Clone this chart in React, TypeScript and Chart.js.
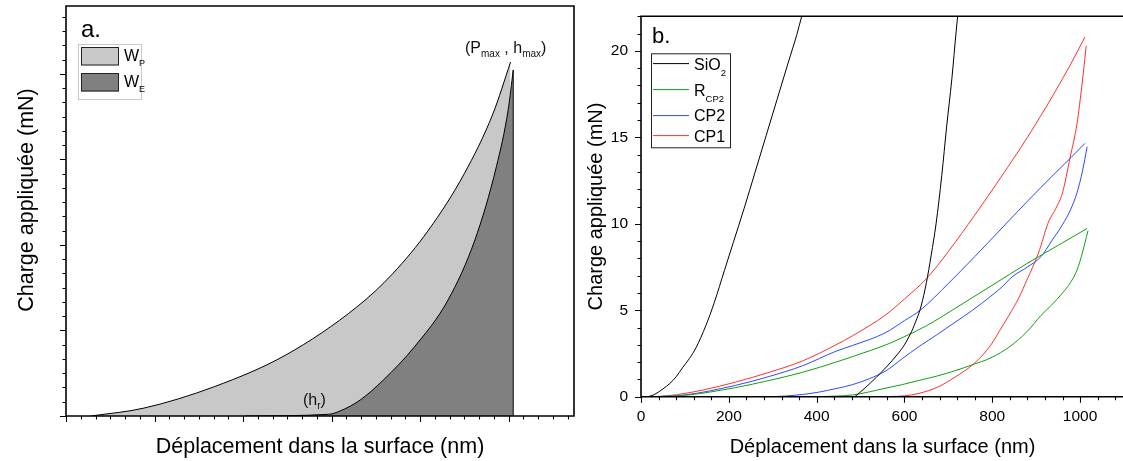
import React, { useEffect, useRef } from 'react';
import { Chart, registerables } from 'chart.js';

Chart.register(...registerables);

const FONT = "'Liberation Sans', Arial, Helvetica, sans-serif";

// ---------- Panel a (schematic, no tick labels) ----------
const aLoadX = [85, 261, 503, 745, 987, 1108, 1229, 1350, 1447, 1507];
const aLoadY = [0, 0.54, 2.06, 4.28, 7.67, 10.0, 13.05, 17.0, 21.2, 24.84];
const aUnloadX = [610, 890, 929, 997, 1076, 1183, 1295, 1386, 1459, 1499, 1516];
const aUnloadY = [0, 0.12, 0.35, 1.12, 2.53, 4.9, 8.14, 12.35, 17.5, 21.5, 24.28];
const aEdgeX = [1516, 1516];
const aEdgeY = [0, 24.28];
const aLegendMain = ['W', 'W'];
const aLegendSub = ['P', 'E'];

// ---------- Panel b ----------
const sio2LoadX = [16, 30, 50, 65, 80, 95, 110, 125, 148, 167, 190, 210, 235, 260, 285, 310, 335, 355, 366, 380];
const sio2LoadY = [0, 0.12, 0.45, 0.75, 1.15, 1.69, 2.2, 2.82, 4.13, 5.45, 7.3, 8.9, 10.9, 13.0, 15.1, 17.2, 19.3, 20.95, 22.0, 23.2];
const sio2UnloadX = [487, 510, 535, 560, 584, 600, 613, 625, 638, 650, 661, 672, 685, 696, 708, 718, 726];
const sio2UnloadY = [0, 0.5, 1.1, 1.75, 2.45, 3.0, 3.6, 4.3, 5.25, 6.6, 8.2, 10.0, 12.8, 15.6, 18.4, 21.2, 23.2];

const rcp2LoadX = [30, 100, 216, 292, 368, 444, 520, 558, 598, 650, 715, 797, 879, 960, 1016];
const rcp2LoadY = [0, 0.08, 0.53, 0.94, 1.41, 2.0, 2.65, 3.0, 3.45, 4.1, 5.1, 6.4, 7.7, 8.9, 9.73];
const rcp2UnloadX = [1018, 1005, 993, 978, 960, 935, 911, 879, 840, 797, 755, 715, 675, 633, 595, 558, 520, 482, 440, 400];
const rcp2UnloadY = [9.6, 8.3, 7.32, 6.6, 6.0, 5.3, 4.7, 3.76, 2.9, 2.25, 1.85, 1.5, 1.2, 0.94, 0.7, 0.5, 0.28, 0.1, 0.03, 0];

const cp2LoadX = [30, 100, 216, 292, 368, 444, 520, 558, 600, 636, 700, 760, 820, 880, 940, 980, 1011];
const cp2LoadY = [0, 0.1, 0.66, 1.17, 1.79, 2.63, 3.3, 3.72, 4.4, 5.0, 6.55, 8.1, 9.7, 11.3, 12.85, 13.85, 14.65];
const cp2UnloadX = [1016, 1005, 993, 978, 960, 935, 911, 880, 846, 820, 797, 755, 715, 675, 633, 595, 558, 520, 482, 444, 406, 368, 330, 300];
const cp2UnloadY = [14.46, 13.0, 11.8, 10.8, 9.95, 9.0, 8.1, 7.5, 6.95, 6.3, 5.82, 5.0, 4.3, 3.6, 2.9, 2.2, 1.5, 1.04, 0.7, 0.47, 0.27, 0.13, 0.04, 0];

const cp1LoadX = [30, 64, 140, 216, 292, 368, 444, 520, 558, 600, 651, 700, 760, 820, 880, 940, 980, 1011];
const cp1LoadY = [0, 0.06, 0.38, 0.85, 1.41, 2.07, 3.0, 4.1, 4.75, 5.65, 6.85, 8.4, 10.5, 12.7, 15.0, 17.5, 19.3, 20.8];
const cp1UnloadX = [1014, 1005, 993, 977, 960, 945, 928, 905, 879, 860, 838, 815, 797, 760, 715, 675, 633, 600, 545];
const cp1UnloadY = [20.3, 18.2, 15.8, 13.8, 11.8, 10.9, 10.1, 8.3, 6.76, 5.7, 4.7, 3.75, 3.0, 1.95, 1.13, 0.55, 0.19, 0.05, 0];

const bXTicks = [0, 200, 400, 600, 800, 1000];
const bYTicks = [0, 5, 10, 15, 20];
const bLegendMain = ['SiO', 'R', 'CP2', 'CP1'];
const bLegendSub = ['2', 'CP2', '', ''];
const bColors = ['#000000', '#10a010', '#2a4bff', '#ff3030'];

const X_TITLE = 'Déplacement dans la surface (nm)';
const Y_TITLE = 'Charge appliquée (mN)';

const pts = (xs: number[], ys: number[]) => xs.map((x, i) => ({ x, y: ys[i] }));

function drawRich(ctx: CanvasRenderingContext2D, x: number, y: number, parts: [string, boolean][], size: number, subSize: number, drop: number) {
  let cx = x;
  for (const [t, sub] of parts) {
    ctx.font = `${sub ? subSize : size}px ${FONT}`;
    ctx.fillText(t, cx, sub ? y + drop : y);
    cx += ctx.measureText(t).width;
  }
}

// frame + outward ticks
const framePlugin = {
  id: 'frameTicks',
  afterDraw(chart: any, _a: any, opts: any) {
    const { ctx, chartArea: a, scales } = chart;
    const xs = scales.x, ys = scales.y;
    ctx.save();
    ctx.strokeStyle = '#000';
    ctx.lineWidth = 1.6;
    ctx.beginPath();
    ctx.rect(a.left, a.top, a.right - a.left, a.bottom - a.top);
    ctx.stroke();
    ctx.lineWidth = 1.1;
    ctx.beginPath();
    const nx = Math.round(opts.xMajor / opts.xMinor);
    for (let i = 0; i * opts.xMinor <= xs.max + 1e-9; i++) {
      const px = Math.round(xs.getPixelForValue(i * opts.xMinor)) + 0.5;
      const len = i % nx === 0 ? 6 : 3.5;
      ctx.moveTo(px, a.bottom);
      ctx.lineTo(px, a.bottom + len);
    }
    const ny = Math.round(opts.yMajor / opts.yMinor);
    for (let i = 0; i * opts.yMinor <= ys.max + 1e-9; i++) {
      const py = Math.round(ys.getPixelForValue(i * opts.yMinor)) + 0.5;
      const len = i % ny === 0 ? 6 : 3.5;
      ctx.moveTo(a.left, py);
      ctx.lineTo(a.left - len, py);
    }
    ctx.stroke();
    ctx.restore();
  },
};

const panelAPlugin = {
  id: 'panelA',
  afterDraw(chart: any) {
    const { ctx, chartArea: a } = chart;
    ctx.save();
    ctx.fillStyle = '#000';
    // y title
    ctx.save();
    ctx.translate(27, 200);
    ctx.rotate(-Math.PI / 2);
    ctx.textAlign = 'center';
    ctx.textBaseline = 'middle';
    ctx.font = `21.5px ${FONT}`;
    ctx.fillText(Y_TITLE, 0, 0);
    ctx.restore();
    ctx.textAlign = 'left';
    ctx.textBaseline = 'alphabetic';
    // panel letter
    ctx.font = `24px ${FONT}`;
    ctx.fillText('a.', a.left + 15, a.top + 31);
    // legend
    const bx = a.left + 12, by = a.top + 38;
    ctx.fillStyle = '#fff';
    ctx.fillRect(bx, by, 63, 55);
    ctx.strokeStyle = '#c8c8c8';
    ctx.lineWidth = 1;
    ctx.strokeRect(bx + 0.5, by + 0.5, 63, 55);
    const fills = ['#c8c8c8', '#808080'];
    for (let i = 0; i < 2; i++) {
      const sy = by + 3 + i * 26;
      ctx.fillStyle = fills[i];
      ctx.fillRect(bx + 3, sy, 38, 18.5);
      ctx.strokeStyle = '#222';
      ctx.strokeRect(bx + 3.5, sy + 0.5, 37, 17.5);
      ctx.fillStyle = '#000';
      drawRich(ctx, bx + 46, by + 16.7 + i * 26.6, [[aLegendMain[i], false], [aLegendSub[i], true]], 16, 9, 5);
    }
    // annotations
    ctx.fillStyle = '#111';
    drawRich(ctx, 465, 53.3, [['(', false], ['P', false], ['max', true], [' , ', false], ['h', false], ['max', true], [')', false]], 16, 10, 3.5);
    drawRich(ctx, 303, 405, [['(', false], ['h', false], ['r', true], [')', false]], 16, 10, 3.5);
    ctx.restore();
  },
};

const panelBPlugin = {
  id: 'panelB',
  afterDraw(chart: any) {
    const { ctx, chartArea: a } = chart;
    ctx.save();
    ctx.fillStyle = '#000';
    ctx.textAlign = 'left';
    ctx.textBaseline = 'alphabetic';
    ctx.font = `22px ${FONT}`;
    ctx.fillText('b.', a.left + 11, a.top + 27);
    const bx = a.left + 10, by = a.top + 37;
    ctx.fillStyle = '#fff';
    ctx.fillRect(bx, by, 79, 94);
    ctx.strokeStyle = '#222';
    ctx.lineWidth = 1;
    ctx.strokeRect(bx + 0.5, by + 0.5, 79, 94);
    const lineY = [10.3, 36.3, 62.3, 82.3];
    const baseY = [17, 43, 68, 88.7];
    for (let i = 0; i < 4; i++) {
      ctx.strokeStyle = bColors[i];
      ctx.beginPath();
      ctx.moveTo(bx + 2, by + lineY[i]);
      ctx.lineTo(bx + 38, by + lineY[i]);
      ctx.stroke();
      ctx.fillStyle = '#000';
      const parts: [string, boolean][] = [[bLegendMain[i], false]];
      if (bLegendSub[i]) parts.push([bLegendSub[i], true]);
      drawRich(ctx, bx + 43, by + baseY[i], parts, 16, 9.5, 5.5);
    }
    ctx.restore();
  },
};

function lineDs(xs: number[], ys: number[], color: string, extra: any = {}) {
  return {
    data: pts(xs, ys),
    borderColor: color,
    borderWidth: 1,
    pointRadius: 0,
    cubicInterpolationMode: 'monotone',
    fill: false,
    ...extra,
  };
}

export default function App() {
  const leftRef = useRef<HTMLCanvasElement>(null);
  const rightRef = useRef<HTMLCanvasElement>(null);

  useEffect(() => {
    document.body.style.margin = '0';
    const left = new Chart(leftRef.current!, {
      type: 'line',
      data: {
        datasets: [
          lineDs(aLoadX, aLoadY, '#000', { fill: 'origin', backgroundColor: '#c8c8c8', order: 3 }),
          lineDs(aUnloadX, aUnloadY, '#000', { fill: 'origin', backgroundColor: '#808080', order: 2 }),
          lineDs(aEdgeX, aEdgeY, '#000', { order: 1, cubicInterpolationMode: 'default', tension: 0 }),
        ],
      },
      options: {
        responsive: false,
        animation: false,
        layout: { padding: { left: 0, top: 6, right: 26, bottom: 0 } },
        plugins: {
          legend: { display: false },
          tooltip: { enabled: false },
          frameTicks: { xMajor: 300, xMinor: 50, yMajor: 6, yMinor: 1 },
        } as any,
        scales: {
          x: {
            type: 'linear', min: 0, max: 1722,
            grid: { display: false }, border: { display: false },
            ticks: { display: false },
            title: { display: true, text: X_TITLE, color: '#000', font: { size: 21.5, family: FONT }, padding: { top: 0, bottom: 1 } },
            afterFit: (s: any) => { s.height = 45; },
          },
          y: {
            type: 'linear', min: 0, max: 28.77,
            grid: { display: false }, border: { display: false },
            ticks: { display: false },
            afterFit: (s: any) => { s.width = 66; },
          },
        },
      } as any,
      plugins: [framePlugin, panelAPlugin],
    });

    const ds: any[] = [];
    const series = [
      [sio2LoadX, sio2LoadY, sio2UnloadX, sio2UnloadY],
      [rcp2LoadX, rcp2LoadY, rcp2UnloadX, rcp2UnloadY],
      [cp2LoadX, cp2LoadY, cp2UnloadX, cp2UnloadY],
      [cp1LoadX, cp1LoadY, cp1UnloadX, cp1UnloadY],
    ];
    series.forEach((s, i) => {
      ds.push(lineDs(s[0], s[1], bColors[i]));
      ds.push(lineDs(s[2], s[3], bColors[i]));
    });

    const right = new Chart(rightRef.current!, {
      type: 'line',
      data: { datasets: ds },
      options: {
        responsive: false,
        animation: false,
        layout: { padding: { left: 0, top: 6, right: 0, bottom: 0 } },
        plugins: {
          legend: { display: false },
          tooltip: { enabled: false },
          frameTicks: { xMajor: 200, xMinor: 40, yMajor: 5, yMinor: 1 },
        } as any,
        scales: {
          x: {
            type: 'linear', min: 0, max: 1100,
            grid: { display: false, drawTicks: true, tickLength: 6 }, border: { display: false },
            afterBuildTicks: (s: any) => { s.ticks = bXTicks.map((v) => ({ value: v })); },
            ticks: { color: '#000', font: { size: 15.5, family: FONT }, padding: 5, maxRotation: 0, autoSkip: false, callback: (v: any) => String(v) },
            title: { display: true, text: X_TITLE, color: '#000', font: { size: 20, family: FONT }, padding: { top: 0, bottom: 2 } },
            afterFit: (s: any) => { s.height = 64.3; },
          },
          y: {
            type: 'linear', min: 0, max: 22,
            grid: { display: false, drawTicks: true, tickLength: 6 }, border: { display: false },
            afterBuildTicks: (s: any) => { s.ticks = bYTicks.map((v) => ({ value: v })); },
            ticks: { color: '#000', font: { size: 15.5, family: FONT }, padding: 7, autoSkip: false, callback: (v: any) => String(v) },
            title: { display: true, text: Y_TITLE, color: '#000', font: { size: 20, family: FONT }, padding: { top: 8, bottom: 0 } },
            afterFit: (s: any) => { s.width = 65; },
          },
        },
      } as any,
      plugins: [framePlugin, panelBPlugin],
    });

    return () => {
      left.destroy();
      right.destroy();
    };
  }, []);

  return (
    <div style={{ position: 'fixed', left: 0, top: 0, width: 1123, height: 461, overflow: 'hidden', background: '#fff' }}>
      <canvas ref={leftRef} width={600} height={461} style={{ position: 'absolute', left: 0, top: 0, width: 600, height: 461 }} />
      <canvas ref={rightRef} width={548} height={461} style={{ position: 'absolute', left: 576, top: 0, width: 548, height: 461 }} />
    </div>
  );
}
